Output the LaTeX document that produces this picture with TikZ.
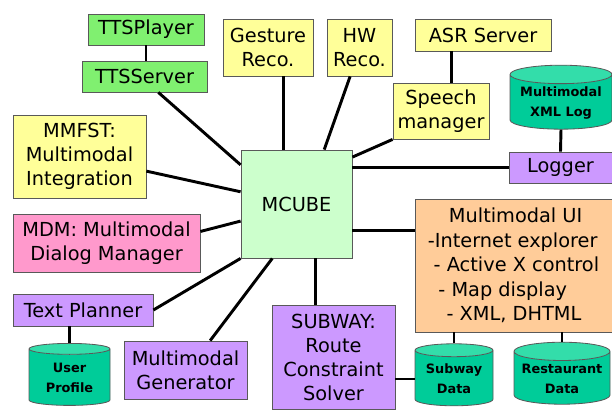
\documentclass[tikz,border=0pt]{standalone}
\usepackage{fontspec}
\setmainfont{DejaVu Sans}
\usepackage{tikz}
\usetikzlibrary{shapes.geometric, positioning, calc}

\definecolor{ttsgreen}{RGB}{128,240,112}
\definecolor{recoyellow}{RGB}{255,255,153}
\definecolor{hubgreen}{RGB}{204,255,204}
\definecolor{dmpink}{RGB}{255,153,204}
\definecolor{genpurple}{RGB}{204,153,255}
\definecolor{uiorange}{RGB}{255,204,153}
\definecolor{dbteal}{RGB}{0,204,153}
\definecolor{dbtop}{RGB}{51,221,170}

\begin{document}
\begin{tikzpicture}[
    box/.style={rectangle, draw=gray!70!black, line width=0.7pt, align=center, inner sep=1pt, font=\fontsize{16.5}{20.5}\selectfont},
    db/.style={cylinder, shape border rotate=90, aspect=0.22, draw=gray!70!black, line width=0.7pt, cylinder uses custom fill, cylinder body fill=dbteal, cylinder end fill=dbtop, align=center, inner sep=1pt, font=\fontsize{11}{17}\selectfont\bfseries},
    link/.style={line width=2.5pt}
]
\useasboundingbox (0,0) rectangle (18.36,12.3);

\node[box, fill=ttsgreen, minimum width=3.48cm, minimum height=0.93cm] (player) at (4.38,11.415) {TTSPlayer};
\node[box, fill=ttsgreen, minimum width=3.75cm, minimum height=0.93cm] (server) at (4.335,10.005) {TTSServer};
\node[box, fill=recoyellow, minimum width=2.7cm, minimum height=1.71cm] (gesture) at (8.04,10.875) {Gesture\\Reco.};
\node[box, fill=recoyellow, minimum width=1.95cm, minimum height=1.71cm] (hw) at (10.785,10.875) {HW\\Reco.};
\node[box, fill=recoyellow, minimum width=4.08cm, minimum height=0.96cm] (asr) at (14.49,11.25) {ASR Server};
\node[box, fill=recoyellow, minimum width=2.88cm, minimum height=1.68cm] (speech) at (13.23,8.97) {Speech\\manager};
\node[db, minimum width=3.06cm, minimum height=1.92cm] (xmllog) at (16.83,9.21) {Multimodal\\XML Log};
\node[box, fill=genpurple, minimum width=3.09cm, minimum height=0.93cm] (logger) at (16.815,7.275) {Logger};
\node[box, fill=hubgreen, minimum width=3.33cm, minimum height=3.24cm] (mcube) at (8.895,6.18) {MCUBE};
\node[box, fill=recoyellow, minimum width=3.99cm, minimum height=2.49cm] (mmfst) at (2.385,7.605) {MMFST:\\Multimodal\\Integration};
\node[box, fill=dmpink, minimum width=5.61cm, minimum height=1.74cm] (mdm) at (3.195,5.01) {MDM: Multimodal\\Dialog Manager};
\node[box, fill=genpurple, minimum width=4.2cm, minimum height=0.96cm] (planner) at (2.49,3.0) {Text Planner};
\node[db, minimum width=2.43cm, minimum height=1.86cm] (profile) at (2.085,0.96) {User\\Profile};
\node[box, fill=genpurple, minimum width=3.69cm, minimum height=1.74cm] (generator) at (5.565,1.2) {Multimodal\\Generator};
\node[box, fill=genpurple, minimum width=3.69cm, minimum height=3.12cm] (subway) at (10.005,1.59) {SUBWAY:\\Route\\Constraint\\Solver};
\node[box, fill=uiorange, minimum width=5.91cm, minimum height=3.99cm, align=left, font=\fontsize{16.5}{21}\selectfont] (mmui) at (15.405,4.335)
    {\hspace*{18pt}Multimodal UI\\-Internet explorer\\\hspace*{5pt}- Active X control\\\hspace*{9pt}- Map display\\\hspace*{16pt}- XML, DHTML};
\node[db, minimum width=2.34cm, minimum height=1.86cm] (subwaydata) at (13.62,0.93) {Subway\\Data};
\node[db, minimum width=2.88cm, minimum height=1.86cm] (restdata) at (16.86,0.93) {Restaurant\\Data};

\draw[link] (player.south) -- (player.south |- server.north);
\draw[link] (server.-49) -- (mcube.145);
\draw[link] (gesture.-62) -- (gesture.-62 |- mcube.north);
\draw[link] (hw.-108) -- (mcube.63);
\draw[link] (speech.69) -- (speech.69 |- asr.south);
\draw[link] (speech.south west) -- (mcube.40);
\draw[link] (xmllog.south) -- (logger.north);
\draw[link] (logger.west) -- (logger.west -| mcube.east);
\draw[link] (mmfst) -- (mcube);
\draw[link] (mdm.7) -- (mcube.197);
\draw[link] (planner.east) -- (mcube.south west);
\draw[link] (planner.south -| profile.north) -- (profile.north);
\draw[link] (generator.50) -- (mcube.246);
\draw[link] (mcube.-71) -- (mcube.-71 |- subway.north);
\draw[link] (mcube.-25) -- (mcube.-25 -| mmui.west);
\draw[link] (subwaydata.north) -- (subwaydata.north |- mmui.south);
\draw[link] (restdata.north) -- (restdata.north |- mmui.south);
\draw[link] (subwaydata.west) -- (subwaydata.west -| subway.east);
\end{tikzpicture}
\end{document}
